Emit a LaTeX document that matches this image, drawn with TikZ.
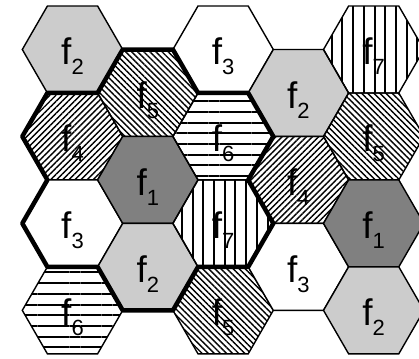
\documentclass[tikz,border=0pt]{standalone}
\usepackage{fontspec}
\setmainfont{Liberation Sans}
\usetikzlibrary{shapes.geometric,patterns.meta}
\definecolor{darkcell}{RGB}{128,128,128}
\definecolor{lightcell}{RGB}{204,204,204}
\newcommand{\freq}[1]{f\raisebox{-10pt}{\fontsize{22}{22}\selectfont #1}}

\begin{document}
\begin{tikzpicture}[x=1pt, y=-1pt,
    cell/.style={regular polygon, regular polygon sides=6, draw, line width=1.4pt,
        minimum size=100.4pt, inner sep=0pt, outer sep=0pt,
        text height=41pt, text depth=10pt, font=\fontsize{37}{40}\selectfont},
    fone/.style={cell, fill=darkcell},
    ftwo/.style={cell, fill=lightcell},
    fthree/.style={cell, fill=white},
    ffour/.style={cell, pattern={Lines[angle=45, distance=4.3pt, line width=1.4pt]}},
    ffive/.style={cell, pattern={Lines[angle=-45, distance=4.3pt, line width=1.4pt]}},
    fsix/.style={cell, pattern={Lines[angle=0, distance=10.7pt, line width=2pt]}},
    fseven/.style={cell, pattern={Lines[angle=90, distance=10.7pt, line width=2pt]}},
    cluster/.style={line width=4.5pt, line join=round}]
    \useasboundingbox (0, 0) rectangle (419, 358);

    % first column
    \node[ftwo] (h00) at (72.5, 49.5) {\freq{2}};
    \node[ffour] (h01) at (72.5, 136.45) {\freq{4}};
    \node[fthree] (h02) at (72.5, 223.4) {\freq{3}};
    \node[fsix] (h03) at (72.5, 310.35) {\freq{6}};

    % second column
    \node[ffive] (h10) at (147.8, 93) {\freq{5}};
    \node[fone] (h11) at (147.8, 179.9) {\freq{1}};
    \node[ftwo] (h12) at (147.8, 266.9) {\freq{2}};

    % third column
    \node[fthree] (h20) at (223.1, 49.5) {\freq{3}};
    \node[fsix] (h21) at (223.1, 136.45) {\freq{6}};
    \node[fseven] (h22) at (223.1, 223.4) {\freq{7}};
    \node[ffive] (h23) at (223.1, 310.35) {\freq{5}};

    % fourth column
    \node[ftwo] (h30) at (298.4, 93) {\freq{2}};
    \node[ffour] (h31) at (298.4, 179.9) {\freq{4}};
    \node[fthree] (h32) at (298.4, 266.9) {\freq{3}};

    % fifth column
    \node[fseven] (h40) at (373.7, 49.5) {\freq{7}};
    \node[ffive] (h41) at (373.7, 136.45) {\freq{5}};
    \node[fone] (h42) at (373.7, 223.4) {\freq{1}};
    \node[ftwo] (h43) at (373.7, 310.35) {\freq{2}};

    % cluster outline
    \draw[cluster] (h01.180) -- (h01.120) -- (h01.60)
        -- (h10.120) -- (h10.60) -- (h10.0)
        -- (h21.60) -- (h21.0) -- (h21.300)
        -- (h22.0) -- (h22.300) -- (h22.240)
        -- (h12.300) -- (h12.240) -- (h12.180)
        -- (h02.240) -- (h02.180) -- (h02.120) -- cycle;
\end{tikzpicture}
\end{document}
